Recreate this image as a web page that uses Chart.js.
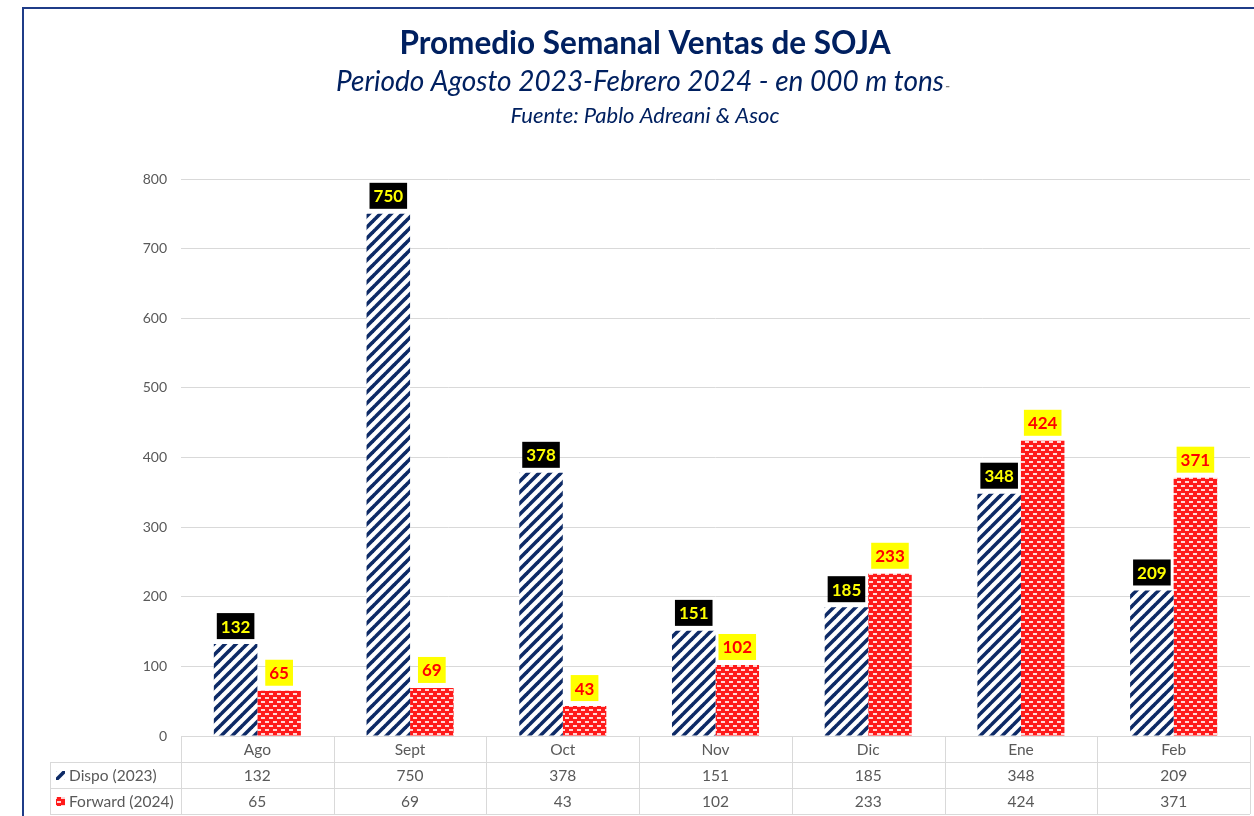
<!DOCTYPE html>
<html>
<head>
<meta charset="utf-8">
<script src="https://cdn.jsdelivr.net/npm/chart.js@4.4.1/dist/chart.umd.min.js"></script>
<style>
  html, body { margin: 0; padding: 0; background: #fff; }
  #wrap { position: relative; width: 1254px; height: 816px; }
</style>
</head>
<body>
<div id="wrap"><canvas id="chart" width="1254" height="816"></canvas></div>
<script>
// chart data
const months = ['Ago', 'Sept', 'Oct', 'Nov', 'Dic', 'Ene', 'Feb'];
const dispo = [132, 750, 378, 151, 185, 348, 209];
const forward = [65, 69, 43, 102, 233, 424, 371];
const seriesNames = ['Dispo (2023)', 'Forward (2024)'];
const yTicks = [0, 100, 200, 300, 400, 500, 600, 700, 800];

const titleText = 'Promedio Semanal Ventas de SOJA';
const subtitleText = 'Periodo Agosto 2023-Febrero 2024 - en 000 m tons';
const sourceText = 'Fuente: Pablo Adreani & Asoc';

const NAVY = '#002060';
const FONT = 'Lato, "Open Sans", sans-serif';

function stripePattern() {
  const c = document.createElement('canvas');
  c.width = 11; c.height = 11;
  const g = c.getContext('2d');
  g.fillStyle = '#fff';
  g.fillRect(0, 0, 11, 11);
  g.strokeStyle = '#0d2a66';
  g.lineWidth = 3.6;
  [-11, 0, 11].forEach(o => {
    g.beginPath();
    g.moveTo(o - 1, 12);
    g.lineTo(o + 12, -1);
    g.stroke();
  });
  return g.createPattern(c, 'repeat');
}

function dotPattern() {
  const c = document.createElement('canvas');
  c.width = 8; c.height = 8;
  const g = c.getContext('2d');
  g.fillStyle = '#ff1a1a';
  g.fillRect(0, 0, 8, 8);
  g.fillStyle = '#ffd6d6';
  g.fillRect(1, 1, 4, 2);
  g.fillRect(5, 5, 3, 2);
  g.fillRect(0, 5, 1, 2);
  return g.createPattern(c, 'repeat');
}

const fills = [stripePattern(), dotPattern()];

// title lines at the top
const headerPlugin = {
  id: 'header',
  beforeDraw(chart) {
    const ctx = chart.ctx;
    ctx.save();
    ctx.fillStyle = '#fff';
    ctx.fillRect(0, 0, chart.width, chart.height);
    // frame
    ctx.strokeStyle = '#1f3c88';
    ctx.lineWidth = 2;
    ctx.beginPath();
    ctx.moveTo(23, 820);
    ctx.lineTo(23, 8);
    ctx.lineTo(1260, 8);
    ctx.stroke();

    const cx = 645;
    ctx.textAlign = 'center';
    ctx.textBaseline = 'alphabetic';
    ctx.fillStyle = NAVY;
    ctx.font = 'bold 31.5px ' + FONT;
    ctx.fillText(titleText, cx, 54);
    ctx.font = 'italic 28px ' + FONT;
    const w = ctx.measureText(subtitleText).width;
    ctx.fillText(subtitleText, cx - 5, 91);
    ctx.textAlign = 'left';
    ctx.font = 'italic 15px ' + FONT;
    ctx.fillStyle = '#7f7f7f';
    ctx.fillText('-', cx - 5 + w / 2 + 1, 91);
    ctx.textAlign = 'center';
    ctx.fillStyle = NAVY;
    ctx.font = 'italic 22px ' + FONT;
    ctx.fillText(sourceText, cx, 123);
    ctx.restore();
  }
};

// value boxes above the bars
const labelPlugin = {
  id: 'valueBoxes',
  afterDatasetsDraw(chart) {
    const ctx = chart.ctx;
    ctx.save();
    ctx.font = 'bold 17px ' + FONT;
    ctx.textAlign = 'center';
    ctx.textBaseline = 'middle';
    chart.data.datasets.forEach((ds, i) => {
      chart.getDatasetMeta(i).data.forEach((bar, j) => {
        const txt = String(ds.data[j]);
        const bw = ctx.measureText(txt).width + 8;
        const bh = 26;
        const top = bar.y - 5 - bh;
        ctx.fillStyle = i === 0 ? '#000' : '#ffff00';
        ctx.fillRect(bar.x - bw / 2, top, bw, bh);
        ctx.fillStyle = i === 0 ? '#ffff00' : '#ff0000';
        ctx.fillText(txt, bar.x, top + bh / 2 + 1);
      });
    });
    ctx.restore();
  }
};

// data table under the plot
const tablePlugin = {
  id: 'dataTable',
  afterDraw(chart) {
    const ctx = chart.ctx;
    const x = chart.scales.x;
    const area = chart.chartArea;
    const rowH = 26;
    const top = area.bottom;
    const legendLeft = 50;
    const colW = (area.right - area.left) / months.length;
    ctx.save();
    ctx.strokeStyle = '#d9d9d9';
    ctx.lineWidth = 1;
    ctx.beginPath();
    // horizontal lines
    ctx.moveTo(area.left, top + 0.5); ctx.lineTo(area.right, top + 0.5);
    for (let r = 1; r <= 3; r++) {
      ctx.moveTo(legendLeft, top + r * rowH + 0.5);
      ctx.lineTo(area.right, top + r * rowH + 0.5);
    }
    // vertical lines
    for (let c = 0; c <= months.length; c++) {
      const lx = Math.round(area.left + c * colW) + 0.5;
      ctx.moveTo(lx, top); ctx.lineTo(lx, top + 3 * rowH);
    }
    ctx.moveTo(legendLeft + 0.5, top + rowH); ctx.lineTo(legendLeft + 0.5, top + 3 * rowH);
    ctx.stroke();

    ctx.fillStyle = '#595959';
    ctx.font = '15.5px ' + FONT;
    ctx.textAlign = 'center';
    ctx.textBaseline = 'middle';
    const rows = [dispo, forward];
    months.forEach((m, j) => {
      const px = x.getPixelForValue(j);
      ctx.fillText(m, px, top + rowH / 2 + 1);
      rows.forEach((vals, r) => {
        ctx.fillText(String(vals[j]), px, top + (r + 1.5) * rowH + 1);
      });
    });
    ctx.textAlign = 'left';
    seriesNames.forEach((name, r) => {
      const cy = top + (r + 1.5) * rowH;
      ctx.fillStyle = fills[r];
      ctx.fillRect(legendLeft + 6, cy - 4, 9, 9);
      ctx.fillStyle = '#595959';
      ctx.fillText(name, legendLeft + 19, cy + 1);
    });
    ctx.restore();
  }
};

new Chart(document.getElementById('chart'), {
  type: 'bar',
  data: {
    labels: months,
    datasets: [
      { label: seriesNames[0], data: dispo, backgroundColor: fills[0], borderWidth: 0 },
      { label: seriesNames[1], data: forward, backgroundColor: fills[1], borderWidth: 0 }
    ]
  },
  options: {
    responsive: false,
    animation: false,
    devicePixelRatio: 1,
    datasets: { bar: { categoryPercentage: 0.57, barPercentage: 1 } },
    layout: { padding: { top: 179, bottom: 80, right: 4, left: 0 } },
    plugins: {
      legend: { display: false },
      tooltip: { enabled: false },
      title: { display: false }
    },
    scales: {
      x: { display: false },
      y: {
        min: 0,
        max: 800,
        afterFit(scale) { scale.width = 181; },
        afterBuildTicks(scale) { scale.ticks = yTicks.map(v => ({ value: v })); },
        border: { display: false },
        grid: { color: '#d9d9d9', drawTicks: false },
        ticks: {
          padding: 14,
          color: '#595959',
          font: { family: FONT, size: 14 }
        }
      }
    }
  },
  plugins: [headerPlugin, labelPlugin, tablePlugin]
});
</script>
</body>
</html>
